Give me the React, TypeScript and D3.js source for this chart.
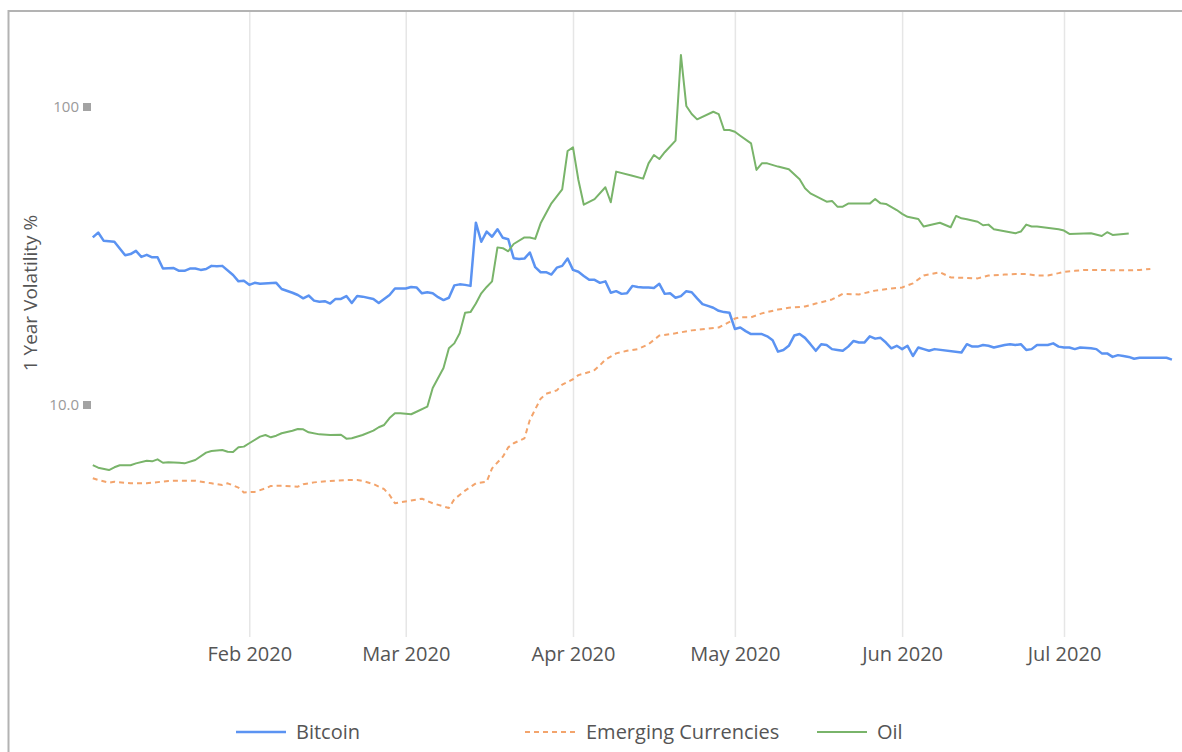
import React from "react";
import * as d3 from "d3";

// 1 year volatility (date, %)
const bitcoin: [string, number][] = [
  ["2020-01-03", 36.5], ["2020-01-04", 37.9], ["2020-01-05", 35.6], ["2020-01-07", 35.3], ["2020-01-09", 31.8],
  ["2020-01-10", 32.1], ["2020-01-11", 32.9], ["2020-01-12", 31.4], ["2020-01-13", 31.9], ["2020-01-14", 31.3],
  ["2020-01-15", 31.3], ["2020-01-16", 28.7], ["2020-01-18", 28.8], ["2020-01-19", 28.2], ["2020-01-20", 28.2],
  ["2020-01-21", 28.7], ["2020-01-22", 28.7], ["2020-01-23", 28.4], ["2020-01-24", 28.6], ["2020-01-25", 29.3],
  ["2020-01-26", 29.2], ["2020-01-27", 29.3], ["2020-01-29", 27.3], ["2020-01-30", 26.0], ["2020-01-31", 26.1],
  ["2020-02-01", 25.3], ["2020-02-02", 25.7], ["2020-02-03", 25.5], ["2020-02-06", 25.7], ["2020-02-07", 24.5],
  ["2020-02-09", 23.8], ["2020-02-10", 23.4], ["2020-02-11", 22.8], ["2020-02-12", 23.3], ["2020-02-13", 22.4],
  ["2020-02-14", 22.2], ["2020-02-15", 22.3], ["2020-02-16", 21.9], ["2020-02-17", 22.7], ["2020-02-18", 22.7],
  ["2020-02-19", 23.2], ["2020-02-20", 22.0], ["2020-02-21", 23.2], ["2020-02-22", 23.1], ["2020-02-24", 22.7],
  ["2020-02-25", 22.0], ["2020-02-27", 23.4], ["2020-02-28", 24.6], ["2020-02-29", 24.6], ["2020-03-01", 24.6],
  ["2020-03-02", 24.9], ["2020-03-03", 24.8], ["2020-03-04", 23.7], ["2020-03-05", 23.9], ["2020-03-06", 23.7],
  ["2020-03-07", 23.0], ["2020-03-08", 22.5], ["2020-03-09", 22.9], ["2020-03-10", 25.2], ["2020-03-11", 25.4],
  ["2020-03-12", 25.3], ["2020-03-13", 25.1], ["2020-03-14", 40.9], ["2020-03-15", 35.3], ["2020-03-16", 38.2],
  ["2020-03-17", 36.7], ["2020-03-18", 38.9], ["2020-03-19", 36.4], ["2020-03-20", 36.0], ["2020-03-21", 31.1],
  ["2020-03-22", 30.9], ["2020-03-23", 31.0], ["2020-03-24", 32.5], ["2020-03-25", 29.0], ["2020-03-26", 27.9],
  ["2020-03-27", 27.9], ["2020-03-28", 27.4], ["2020-03-29", 28.9], ["2020-03-30", 29.3], ["2020-03-31", 31.0],
  ["2020-04-01", 28.4], ["2020-04-02", 28.0], ["2020-04-03", 27.1], ["2020-04-04", 26.3], ["2020-04-05", 26.3],
  ["2020-04-06", 25.7], ["2020-04-07", 26.0], ["2020-04-08", 23.8], ["2020-04-09", 24.1], ["2020-04-10", 23.6],
  ["2020-04-11", 23.7], ["2020-04-12", 25.1], ["2020-04-13", 24.9], ["2020-04-14", 24.8], ["2020-04-15", 24.8],
  ["2020-04-16", 24.7], ["2020-04-17", 25.5], ["2020-04-18", 23.6], ["2020-04-19", 23.7], ["2020-04-20", 22.9],
  ["2020-04-21", 23.2], ["2020-04-22", 24.1], ["2020-04-23", 23.9], ["2020-04-24", 22.8], ["2020-04-25", 21.8],
  ["2020-04-26", 21.5], ["2020-04-27", 21.2], ["2020-04-28", 20.7], ["2020-04-29", 20.5], ["2020-04-30", 20.4],
  ["2020-05-01", 18.0], ["2020-05-02", 18.2], ["2020-05-03", 17.7], ["2020-05-04", 17.3], ["2020-05-06", 17.3],
  ["2020-05-07", 17.0], ["2020-05-08", 16.5], ["2020-05-09", 15.1], ["2020-05-10", 15.3], ["2020-05-11", 15.8],
  ["2020-05-12", 17.1], ["2020-05-13", 17.3], ["2020-05-14", 16.8], ["2020-05-15", 16.0], ["2020-05-16", 15.2],
  ["2020-05-17", 16.0], ["2020-05-18", 15.9], ["2020-05-19", 15.4], ["2020-05-20", 15.3], ["2020-05-21", 15.2],
  ["2020-05-22", 15.7], ["2020-05-23", 16.4], ["2020-05-24", 16.2], ["2020-05-25", 16.2], ["2020-05-26", 17.0],
  ["2020-05-27", 16.7], ["2020-05-28", 16.8], ["2020-05-29", 16.2], ["2020-05-30", 15.5], ["2020-05-31", 15.8],
  ["2020-06-01", 15.4], ["2020-06-02", 15.8], ["2020-06-03", 14.6], ["2020-06-04", 15.6], ["2020-06-05", 15.4],
  ["2020-06-06", 15.2], ["2020-06-07", 15.4], ["2020-06-12", 15.0], ["2020-06-13", 16.0], ["2020-06-14", 15.7],
  ["2020-06-15", 15.7], ["2020-06-16", 15.9], ["2020-06-17", 15.8], ["2020-06-18", 15.6], ["2020-06-20", 15.9],
  ["2020-06-21", 16.0], ["2020-06-22", 15.9], ["2020-06-23", 16.0], ["2020-06-24", 15.3], ["2020-06-25", 15.4],
  ["2020-06-26", 15.9], ["2020-06-28", 15.9], ["2020-06-29", 16.1], ["2020-06-30", 15.7], ["2020-07-01", 15.6],
  ["2020-07-02", 15.6], ["2020-07-03", 15.4], ["2020-07-04", 15.6], ["2020-07-06", 15.5], ["2020-07-07", 15.4],
  ["2020-07-08", 14.9], ["2020-07-09", 14.9], ["2020-07-10", 14.5], ["2020-07-11", 14.7], ["2020-07-12", 14.6],
  ["2020-07-13", 14.5], ["2020-07-14", 14.3], ["2020-07-15", 14.4], ["2020-07-19", 14.4], ["2020-07-20", 14.4],
  ["2020-07-21", 14.2],
];

const emergingCurrencies: [string, number][] = [
  ["2020-01-03", 5.68], ["2020-01-04", 5.6], ["2020-01-06", 5.49], ["2020-01-07", 5.53], ["2020-01-10", 5.46],
  ["2020-01-13", 5.46], ["2020-01-17", 5.56], ["2020-01-19", 5.57], ["2020-01-22", 5.57], ["2020-01-25", 5.46],
  ["2020-01-27", 5.39], ["2020-01-28", 5.46], ["2020-01-30", 5.28], ["2020-01-31", 5.09], ["2020-02-02", 5.11],
  ["2020-02-04", 5.25], ["2020-02-05", 5.35], ["2020-02-07", 5.36], ["2020-02-10", 5.32], ["2020-02-11", 5.42],
  ["2020-02-13", 5.5], ["2020-02-16", 5.56], ["2020-02-19", 5.6], ["2020-02-21", 5.6], ["2020-02-22", 5.56],
  ["2020-02-24", 5.43], ["2020-02-26", 5.22], ["2020-02-27", 4.99], ["2020-02-28", 4.68], ["2020-03-02", 4.78],
  ["2020-03-04", 4.85], ["2020-03-06", 4.68], ["2020-03-09", 4.51], ["2020-03-10", 4.83], ["2020-03-12", 5.16],
  ["2020-03-14", 5.46], ["2020-03-16", 5.53], ["2020-03-17", 6.13], ["2020-03-19", 6.71], ["2020-03-20", 7.21],
  ["2020-03-21", 7.44], ["2020-03-23", 7.73], ["2020-03-24", 8.91], ["2020-03-26", 10.5], ["2020-03-27", 10.9],
  ["2020-03-29", 11.2], ["2020-03-30", 11.7], ["2020-04-01", 12.2], ["2020-04-02", 12.6], ["2020-04-04", 12.9],
  ["2020-04-05", 13.1], ["2020-04-06", 13.6], ["2020-04-07", 14.2], ["2020-04-09", 14.9], ["2020-04-11", 15.2],
  ["2020-04-13", 15.4], ["2020-04-15", 16.0], ["2020-04-17", 17.1], ["2020-04-20", 17.4], ["2020-04-23", 17.8],
  ["2020-04-28", 18.2], ["2020-04-30", 19.0], ["2020-05-01", 19.5], ["2020-05-02", 19.7], ["2020-05-04", 19.7],
  ["2020-05-06", 20.3], ["2020-05-09", 20.9], ["2020-05-11", 21.2], ["2020-05-14", 21.4], ["2020-05-16", 21.9],
  ["2020-05-19", 22.6], ["2020-05-21", 23.6], ["2020-05-24", 23.5], ["2020-05-27", 24.2], ["2020-05-30", 24.6],
  ["2020-06-01", 24.8], ["2020-06-03", 25.6], ["2020-06-05", 27.2], ["2020-06-08", 27.9], ["2020-06-10", 26.8],
  ["2020-06-13", 26.7], ["2020-06-15", 26.6], ["2020-06-17", 27.2], ["2020-06-20", 27.4], ["2020-06-22", 27.5],
  ["2020-06-24", 27.5], ["2020-06-26", 27.2], ["2020-06-28", 27.2], ["2020-06-30", 27.7], ["2020-07-01", 28.0],
  ["2020-07-03", 28.2], ["2020-07-05", 28.4], ["2020-07-08", 28.4], ["2020-07-11", 28.3], ["2020-07-13", 28.3],
  ["2020-07-15", 28.4], ["2020-07-17", 28.6],
];

const oil: [string, number][] = [
  ["2020-01-03", 6.28], ["2020-01-04", 6.16], ["2020-01-06", 6.05], ["2020-01-07", 6.18], ["2020-01-08", 6.28],
  ["2020-01-10", 6.28], ["2020-01-11", 6.37], ["2020-01-13", 6.5], ["2020-01-14", 6.47], ["2020-01-15", 6.57],
  ["2020-01-16", 6.4], ["2020-01-17", 6.42], ["2020-01-19", 6.4], ["2020-01-20", 6.37], ["2020-01-22", 6.54],
  ["2020-01-24", 6.92], ["2020-01-25", 7.01], ["2020-01-27", 7.06], ["2020-01-28", 6.97], ["2020-01-29", 6.96],
  ["2020-01-30", 7.21], ["2020-01-31", 7.25], ["2020-02-01", 7.44], ["2020-02-03", 7.83], ["2020-02-04", 7.93],
  ["2020-02-05", 7.79], ["2020-02-06", 7.89], ["2020-02-07", 8.04], ["2020-02-09", 8.2], ["2020-02-10", 8.31],
  ["2020-02-11", 8.29], ["2020-02-12", 8.1], ["2020-02-14", 7.97], ["2020-02-16", 7.93], ["2020-02-18", 7.95],
  ["2020-02-19", 7.71], ["2020-02-20", 7.73], ["2020-02-22", 7.93], ["2020-02-24", 8.2], ["2020-02-25", 8.42],
  ["2020-02-26", 8.57], ["2020-02-27", 9.04], ["2020-02-28", 9.38], ["2020-02-29", 9.38], ["2020-03-02", 9.31],
  ["2020-03-03", 9.49], ["2020-03-05", 9.87], ["2020-03-06", 11.4], ["2020-03-08", 13.3], ["2020-03-09", 15.5],
  ["2020-03-10", 16.1], ["2020-03-11", 17.4], ["2020-03-12", 20.4], ["2020-03-13", 20.5], ["2020-03-14", 21.9],
  ["2020-03-15", 23.7], ["2020-03-16", 24.9], ["2020-03-17", 26.0], ["2020-03-18", 33.8], ["2020-03-19", 33.6],
  ["2020-03-20", 32.8], ["2020-03-21", 34.7], ["2020-03-23", 36.5], ["2020-03-24", 36.5], ["2020-03-25", 36.1],
  ["2020-03-26", 40.7], ["2020-03-27", 44.0], ["2020-03-28", 47.5], ["2020-03-30", 52.9], ["2020-03-31", 71.2],
  ["2020-04-01", 73.2], ["2020-04-02", 56.9], ["2020-04-03", 47.0], ["2020-04-05", 49.1], ["2020-04-07", 53.8],
  ["2020-04-08", 47.9], ["2020-04-09", 60.7], ["2020-04-12", 58.8], ["2020-04-14", 57.5], ["2020-04-15", 64.7],
  ["2020-04-16", 69.0], ["2020-04-17", 66.9], ["2020-04-18", 70.5], ["2020-04-20", 77.1], ["2020-04-21", 149.5],
  ["2020-04-22", 100.8], ["2020-04-23", 94.7], ["2020-04-24", 90.9], ["2020-04-27", 96.4], ["2020-04-28", 94.7],
  ["2020-04-29", 83.7], ["2020-04-30", 83.7], ["2020-05-01", 82.6], ["2020-05-02", 80.1], ["2020-05-04", 75.5],
  ["2020-05-05", 61.5], ["2020-05-06", 64.7], ["2020-05-07", 64.7], ["2020-05-09", 63.1], ["2020-05-11", 61.8],
  ["2020-05-13", 57.2], ["2020-05-14", 53.4], ["2020-05-15", 51.3], ["2020-05-18", 48.1], ["2020-05-19", 48.4],
  ["2020-05-20", 46.3], ["2020-05-21", 46.3], ["2020-05-22", 47.4], ["2020-05-26", 47.4], ["2020-05-27", 49.1],
  ["2020-05-28", 47.5], ["2020-05-29", 47.3], ["2020-05-31", 45.1], ["2020-06-01", 43.8], ["2020-06-02", 42.8],
  ["2020-06-04", 42.1], ["2020-06-05", 39.7], ["2020-06-08", 40.9], ["2020-06-10", 39.5], ["2020-06-11", 43.1],
  ["2020-06-12", 42.3], ["2020-06-13", 42.0], ["2020-06-15", 41.2], ["2020-06-16", 40.1], ["2020-06-17", 40.3],
  ["2020-06-18", 38.9], ["2020-06-22", 37.7], ["2020-06-23", 38.2], ["2020-06-24", 40.3], ["2020-06-25", 39.7],
  ["2020-06-26", 39.7], ["2020-06-30", 38.9], ["2020-07-01", 38.5], ["2020-07-02", 37.5], ["2020-07-06", 37.7],
  ["2020-07-08", 36.9], ["2020-07-09", 38.0], ["2020-07-10", 37.2], ["2020-07-13", 37.6],
];

const monthTicks = ["2020-02-01", "2020-03-01", "2020-04-01", "2020-05-01", "2020-06-01", "2020-07-01"];
const yTicks = [10, 100];
const yTickLabels = ["10.0", "100"];

const seriesNames = ["Bitcoin", "Emerging Currencies", "Oil"];
const seriesColors = ["#5b93f2", "#f3a46c", "#79b46a"];
const seriesDash = [null, "5,4", null];
const seriesWidth = [2.5, 2, 2];
const legendX = [236, 525, 817];

const WIDTH = 1182;
const HEIGHT = 752;
const FONT = "'Open Sans', 'Noto Sans', sans-serif";

export default function App() {
  const ref = React.useRef<SVGSVGElement>(null);

  React.useEffect(() => {
    const svg = d3.select(ref.current);
    svg.selectAll("*").remove();

    const parse = d3.timeParse("%Y-%m-%d");
    const x = d3.scaleTime()
      .domain([parse("2020-01-01") as Date, parse("2020-07-01") as Date])
      .range([82, 1064]);
    const y = d3.scaleLog().domain([10, 100]).range([405, 107]);

    // outer frame (right and bottom edges fall outside the picture)
    svg.append("rect")
      .attr("x", 8.5).attr("y", 11)
      .attr("width", 1190).attr("height", 780)
      .attr("fill", "none")
      .attr("stroke", "#b3b3b3")
      .attr("stroke-width", 2);

    // x axis, ticks stretched up into gridlines
    const xAxis = d3.axisBottom(x)
      .tickValues(monthTicks.map((d) => parse(d) as Date))
      .tickSize(-625)
      .tickPadding(10)
      .tickFormat((d) => d3.timeFormat("%b %Y")(d as Date));
    const gx = svg.append("g").attr("transform", "translate(0,637)").call(xAxis);
    gx.select(".domain").remove();
    gx.selectAll(".tick line").attr("stroke", "#e6e6e6").attr("stroke-width", 1.5);
    gx.selectAll(".tick text")
      .attr("fill", "#555")
      .style("font-family", FONT)
      .style("font-size", "20px");

    // y ticks: label + little square marker
    const gy = svg.append("g");
    gy.selectAll("text")
      .data(yTicks)
      .join("text")
      .attr("x", 79)
      .attr("y", (d) => y(d))
      .attr("dy", "0.35em")
      .attr("text-anchor", "end")
      .attr("fill", "#9a9a9a")
      .style("font-family", FONT)
      .style("font-size", "15px")
      .text((d, i) => yTickLabels[i]);
    gy.selectAll("rect")
      .data(yTicks)
      .join("rect")
      .attr("x", 83)
      .attr("y", (d) => y(d) - 4)
      .attr("width", 8)
      .attr("height", 8)
      .attr("fill", "#a3a3a3");

    // y axis title
    svg.append("text")
      .attr("transform", "translate(30,293) rotate(-90)")
      .attr("text-anchor", "middle")
      .attr("dy", "0.35em")
      .attr("fill", "#555")
      .style("font-family", FONT)
      .style("font-size", "19px")
      .text("1 Year Volatility %");

    // lines
    const line = d3.line<[string, number]>()
      .x((d) => x(parse(d[0]) as Date))
      .y((d) => y(d[1]));

    [bitcoin, emergingCurrencies, oil].forEach((data, i) => {
      svg.append("path")
        .datum(data)
        .attr("fill", "none")
        .attr("stroke", seriesColors[i])
        .attr("stroke-width", seriesWidth[i])
        .attr("stroke-linejoin", "round")
        .attr("stroke-dasharray", seriesDash[i])
        .attr("d", line);
    });

    // legend
    const legend = svg.append("g")
      .selectAll("g")
      .data(seriesNames)
      .join("g")
      .attr("transform", (d, i) => `translate(${legendX[i]},732)`);
    legend.append("line")
      .attr("x1", 0).attr("x2", 50)
      .attr("stroke", (d, i) => seriesColors[i])
      .attr("stroke-width", (d, i) => seriesWidth[i])
      .attr("stroke-dasharray", (d, i) => seriesDash[i]);
    legend.append("text")
      .attr("x", (d, i) => (i === 1 ? 61 : 60))
      .attr("dy", "0.35em")
      .attr("fill", "#555")
      .style("font-family", FONT)
      .style("font-size", "20px")
      .text((d) => d);
  }, []);

  return (
    <svg
      ref={ref}
      width={WIDTH}
      height={HEIGHT}
      style={{ position: "absolute", left: 0, top: 0, background: "#fff" }}
    />
  );
}
